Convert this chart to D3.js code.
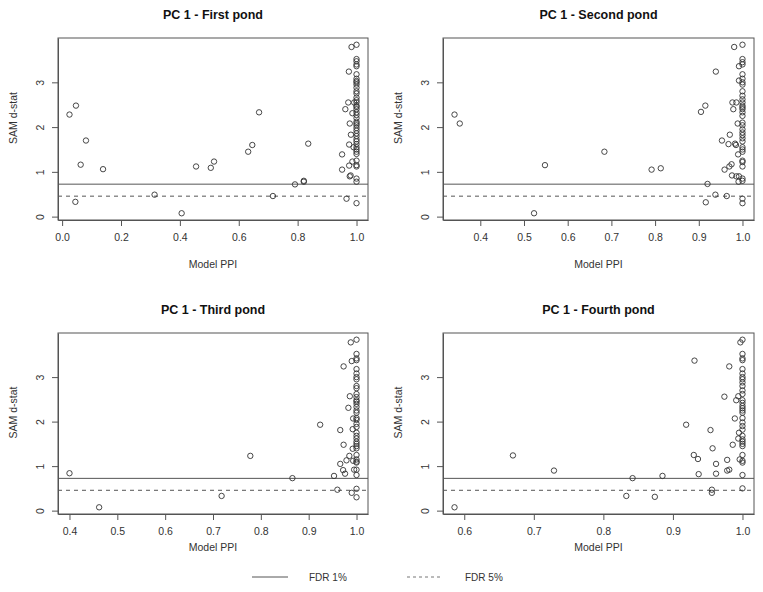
<!DOCTYPE html>
<html><head><meta charset="utf-8">
<script src="https://cdn.jsdelivr.net/npm/d3@7"></script>
<style>
html,body{margin:0;padding:0;background:#fff;}
svg text{font-family:"Liberation Sans",Arial,Helvetica,sans-serif;}
</style></head>
<body><svg id="c" width="763" height="592"></svg>
<script>
// ---------- DATA ----------
const titles = ["PC 1 - First pond", "PC 1 - Second pond", "PC 1 - Third pond", "PC 1 - Fourth pond"];
const xTicks1 = [0.0, 0.2, 0.4, 0.6, 0.8, 1.0];
const xTicks2 = [0.4, 0.5, 0.6, 0.7, 0.8, 0.9, 1.0];
const xTicks3 = [0.4, 0.5, 0.6, 0.7, 0.8, 0.9, 1.0];
const xTicks4 = [0.6, 0.7, 0.8, 0.9, 1.0];
const yTicks = [0, 1, 2, 3];
const fdr1 = 0.725;
const fdr5 = 0.457;
const legendLabels = ["FDR 1%", "FDR 5%"];
const xLabel = "Model PPI";
const yLabel = "SAM d-stat";

// First pond: points with PPI < 1 (x, y) and d-stats of points with PPI = 1.0
const pond1X = [0.025,0.047,0.063,0.081,0.045,0.139,0.314,0.406,0.455,0.505,0.516,0.632,0.646,0.669,0.716,0.791,0.821,0.821,0.836,
  0.951,0.951,0.962,0.966,0.974,0.972,0.975,0.977,0.977,0.975,0.981,0.983,0.986,0.986,0.980,0.990,0.992];
const pond1Y = [2.28,2.48,1.16,1.70,0.33,1.06,0.49,0.075,1.12,1.09,1.23,1.45,1.60,2.33,0.46,0.72,0.80,0.78,1.63,
  1.39,1.05,2.40,0.40,3.24,2.55,1.61,2.08,0.90,1.14,1.83,3.79,2.31,1.23,0.92,1.55,2.55];
const pond1AtOne = [3.84,3.52,3.47,3.40,3.36,3.18,3.08,3.03,3.00,2.95,2.88,2.80,2.75,2.66,2.60,2.55,2.48,2.45,2.40,2.33,2.27,2.20,2.12,2.08,2.04,1.98,1.92,1.86,1.80,1.73,1.68,1.62,1.55,1.50,1.45,1.40,1.25,1.15,1.12,0.85,0.78,0.30];

// Second pond
const pond2X = [0.341,0.353,0.523,0.548,0.684,0.792,0.813,0.905,0.915,0.939,0.920,0.916,0.938,0.953,0.959,0.964,0.968,0.971,0.970,0.975,0.976,0.977,0.979,0.981,0.983,0.985,0.986,0.989,0.991,0.986,0.992,0.992,0.990,0.992];
const pond2Y = [2.28,2.08,0.075,1.15,1.45,1.05,1.08,2.34,2.48,3.24,0.73,0.32,0.49,1.70,1.05,0.46,1.62,1.83,1.12,1.17,0.92,2.55,2.40,3.79,1.63,1.60,2.55,2.08,0.78,0.90,3.36,0.90,1.39,3.04];
const pond2AtOne = [3.84,3.52,3.45,3.40,3.18,3.08,3.00,2.95,2.80,2.70,2.62,2.55,2.48,2.44,2.40,2.33,2.25,2.10,2.04,1.95,1.88,1.82,1.75,1.68,1.55,1.50,1.45,1.25,1.22,1.12,0.85,0.80,0.40,0.30];

// Third pond
const pond3X = [0.400,0.462,0.718,0.778,0.866,0.924,0.953,0.960,0.966,0.966,0.973,0.973,0.972,0.976,0.979,0.983,0.985,0.986,0.988,0.990,0.990,0.992,0.992,0.993,0.993,0.995];
const pond3Y = [0.84,0.075,0.33,1.23,0.73,1.93,0.78,0.47,1.81,1.05,1.48,3.24,0.91,0.83,1.13,2.31,1.23,2.57,3.78,3.36,0.40,1.83,1.39,2.07,1.12,0.92];
const pond3AtOne = [3.84,0.30,0.49,3.52,3.42,3.38,3.18,3.08,3.00,2.95,2.80,2.75,2.62,2.55,2.48,2.45,2.40,2.33,2.25,2.20,2.08,2.04,1.95,1.88,1.75,1.68,1.62,1.55,1.50,1.45,1.40,1.25,1.15,1.10,1.08,0.92,0.80];

// Fourth pond
const pond4X = [0.586,0.670,0.729,0.833,0.842,0.874,0.885,0.919,0.930,0.931,0.936,0.937,0.954,0.956,0.956,0.957,0.962,0.962,0.974,0.978,0.978,0.981,0.981,0.986,0.989,0.991,0.994,0.994,0.995,0.996,0.997];
const pond4Y = [0.075,1.24,0.90,0.33,0.73,0.31,0.78,1.93,1.25,3.37,1.16,0.82,1.81,0.47,0.40,1.40,1.05,0.83,2.56,1.14,0.90,3.24,0.92,1.48,2.07,2.48,2.57,1.62,1.75,1.15,3.78];
const pond4AtOne = [3.84,3.52,3.42,3.38,3.18,3.08,3.00,2.95,2.88,2.80,2.70,2.62,2.48,2.42,2.35,2.30,2.25,2.20,2.08,1.98,1.90,1.82,1.68,1.60,1.55,1.50,1.45,1.25,1.12,1.08,0.80,0.50];

// ---------- LAYOUT ----------
const panels = [
  {title: titles[0], xs: pond1X, ys: pond1Y, one: pond1AtOne, ticks: xTicks1, box: [58, 38, 368, 220], xlabY: 264},
  {title: titles[1], xs: pond2X, ys: pond2Y, one: pond2AtOne, ticks: xTicks2, box: [443, 38, 754, 220], xlabY: 264},
  {title: titles[2], xs: pond3X, ys: pond3Y, one: pond3AtOne, ticks: xTicks3, box: [58, 333, 368, 514], xlabY: 547},
  {title: titles[3], xs: pond4X, ys: pond4Y, one: pond4AtOne, ticks: xTicks4, box: [443, 333, 754, 514], xlabY: 547}
];

const svg = d3.select("#c");
const textCol = "#333";
const axisCol = "#555";
const fmt = d3.format(".1f");

function rExtent(vals) {
  const e = d3.extent(vals);
  const r = e[1] - e[0];
  return [e[0] - 0.04 * r, e[1] + 0.04 * r];
}

panels.forEach(p => {
  const [x0, y0, x1, y1] = p.box;
  const pts = p.xs.map((v, i) => [v, p.ys[i]]).concat(p.one.map(v => [1.0, v]));
  const x = d3.scaleLinear().domain(rExtent(pts.map(d => d[0]))).range([x0, x1]);
  const y = d3.scaleLinear().domain(rExtent(pts.map(d => d[1]))).range([y1, y0]);
  const g = svg.append("g");

  // title
  g.append("text").attr("x", (x0 + x1) / 2).attr("y", y0 - 19)
    .attr("text-anchor", "middle").attr("font-size", 12.5).attr("font-weight", "bold")
    .attr("fill", "#111").text(p.title);

  // x axis
  const xa = g.append("g").attr("transform", `translate(0,${y1})`)
    .call(d3.axisBottom(x).tickValues(p.ticks).tickFormat(fmt).tickSizeInner(6).tickSizeOuter(0).tickPadding(8));
  xa.select(".domain").attr("stroke", axisCol);
  xa.selectAll(".tick line").attr("stroke", axisCol);
  xa.selectAll("text").attr("font-size", 10.5).attr("fill", textCol).attr("font-family", "Liberation Sans, Arial, sans-serif");

  // y axis
  const ya = g.append("g").attr("transform", `translate(${x0},0)`)
    .call(d3.axisLeft(y).tickValues(yTicks).tickFormat(d3.format("d")).tickSizeInner(6).tickSizeOuter(0).tickPadding(6));
  ya.select(".domain").attr("stroke", axisCol);
  ya.selectAll(".tick line").attr("stroke", axisCol);
  ya.selectAll(".tick text").attr("font-size", 10.5).attr("fill", textCol)
    .attr("font-family", "Liberation Sans, Arial, sans-serif")
    .attr("text-anchor", "middle").attr("dy", null)
    .attr("transform", "translate(-18,0) rotate(-90)").attr("x", 0).attr("y", 0)
    .attr("dominant-baseline", "central");

  // box
  g.append("rect").attr("x", x0).attr("y", y0).attr("width", x1 - x0).attr("height", y1 - y0)
    .attr("fill", "none").attr("stroke", axisCol).attr("stroke-width", 1);

  // threshold lines
  g.append("line").attr("x1", x0).attr("x2", x1).attr("y1", y(fdr1)).attr("y2", y(fdr1))
    .attr("stroke", "#555").attr("stroke-width", 1);
  g.append("line").attr("x1", x0).attr("x2", x1).attr("y1", y(fdr5)).attr("y2", y(fdr5))
    .attr("stroke", "#555").attr("stroke-width", 1).attr("stroke-dasharray", "4,4");

  // points
  g.append("g").selectAll("circle").data(pts).join("circle")
    .attr("cx", d => x(d[0])).attr("cy", d => y(d[1])).attr("r", 2.7)
    .attr("fill", "none").attr("stroke", "#333").attr("stroke-width", 0.9);

  // axis labels
  g.append("text").attr("x", (x0 + x1) / 2).attr("y", p.xlabY).attr("text-anchor", "middle")
    .attr("dominant-baseline", "central").attr("font-size", 10.5).attr("fill", textCol).text(xLabel);
  const lx = x0 - 45, ly = (y0 + y1) / 2 - 11;
  g.append("text").attr("transform", `translate(${lx},${ly}) rotate(-90)`).attr("text-anchor", "middle")
    .attr("dominant-baseline", "central").attr("font-size", 10.5).attr("fill", textCol).text(yLabel);
});

// legend
const lg = svg.append("g");
const legY = 577;
lg.append("line").attr("x1", 252).attr("x2", 288).attr("y1", legY).attr("y2", legY).attr("stroke", "#555");
lg.append("text").attr("x", 309).attr("y", legY).attr("dominant-baseline", "central")
  .attr("font-size", 10).attr("fill", textCol).text(legendLabels[0]);
lg.append("line").attr("x1", 407).attr("x2", 442).attr("y1", legY).attr("y2", legY).attr("stroke", "#777")
  .attr("stroke-dasharray", "3,3");
lg.append("text").attr("x", 465).attr("y", legY).attr("dominant-baseline", "central")
  .attr("font-size", 10).attr("fill", textCol).text(legendLabels[1]);
</script></body></html>
